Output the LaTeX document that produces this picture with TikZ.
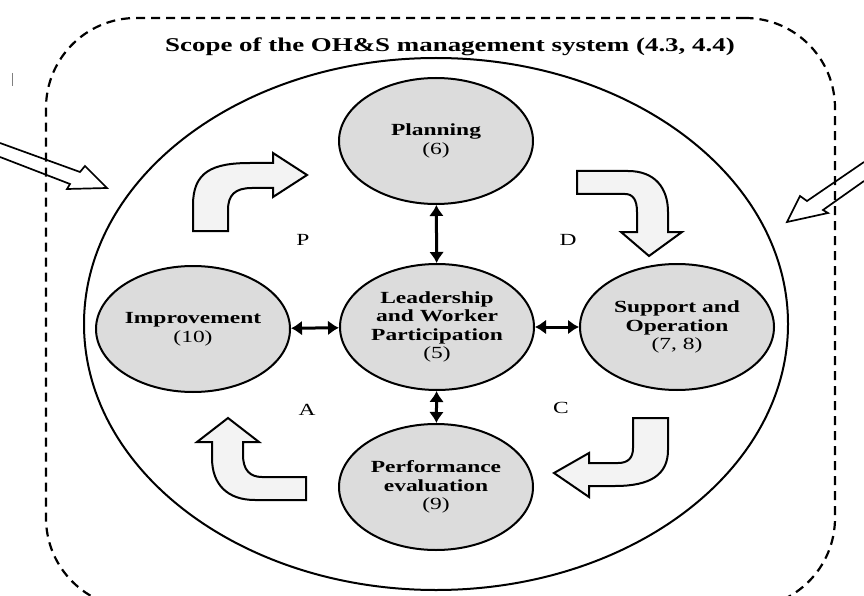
\documentclass[tikz,border=0pt]{standalone}
\usepackage{fontspec}
\setmainfont{Liberation Serif}[FakeStretch=1.38]
\usetikzlibrary{shapes.geometric,arrows.meta}
\definecolor{discfill}{RGB}{220,220,220}
\definecolor{bendfill}{RGB}{243,243,243}
\tikzset{
  phase/.style={draw, ellipse, fill=discfill, line width=2pt, minimum width=194pt, minimum height=126pt, inner sep=0pt, align=center, font=\fontsize{17}{18.5}\selectfont},
  link/.style={line width=3pt, {Latex[length=11pt,width=15pt]}-{Latex[length=11pt,width=15pt]}},
  turnarrow/.style={draw, fill=bendfill, line width=2pt},
  inflow/.style={line width=1.7pt},
  pdca/.style={font=\fontsize{17}{18.5}\selectfont}
}
\begin{document}
\begin{tikzpicture}[x=1pt,y=-1pt]
\useasboundingbox (0,0) rectangle (864,596);
\node[draw, dash pattern=on 9pt off 6pt, line width=2.2pt, rounded corners=90pt, minimum width=789pt, minimum height=590pt] (scope) at (440.5,313) {};
\node[font=\fontsize{19.5}{22}\selectfont\bfseries] (title) at (450,47) {Scope of the OH\&S management system (4.3, 4.4)};
\node[draw, ellipse, line width=2pt, minimum width=704pt, minimum height=532pt] (cycle) at (436,324) {};
\node[phase] (plan) at (436,141) {\textbf{Planning}\\(6)};
\node[phase] (lead) at (437,327) {\textbf{Leadership}\\\textbf{and Worker}\\\textbf{Participation}\\(5)};
\node[phase] (impr) at (193,329) {\textbf{Improvement}\\(10)};
\node[phase] (supp) at (677,327) {\textbf{Support and}\\\textbf{Operation}\\(7, 8)};
\node[phase] (perf) at (436,487) {\textbf{Performance}\\\textbf{evaluation}\\(9)};
\foreach \a/\b in {plan/lead,impr/lead,lead/supp,lead/perf}
\draw[link] (\a) -- (\b);
\node[pdca] (p) at (303,240) {P};
\node[pdca] (d) at (568,240) {D};
\node[pdca] (a) at (307,410) {A};
\node[pdca] (c) at (561,408) {C};
\draw[turnarrow] (193,231) -- (193,205) .. controls (193,172) and (212,163) .. (250,163) -- (273,163) -- (273,153) -- (307,175) -- (273,197) -- (273,188) -- (252,188) .. controls (235,188) and (228,195) .. (228,210) -- (228,231) -- cycle;
\draw[turnarrow] (577,171) -- (628,171) .. controls (655,171) and (668,188) .. (668,212) -- (668,232) -- (682,232) -- (649,256) -- (621,232) -- (637,232) -- (637,212) .. controls (637,200) and (633,194) .. (625,194) -- (577,194) -- cycle;
\draw[turnarrow] (633,418) -- (668,418) -- (668,450) .. controls (668,475) and (650,486) .. (615,486) -- (589,486) -- (589,497) -- (554,473) -- (589,453) -- (589,463) -- (618,463) .. controls (628,463) and (633,458) .. (633,448) -- cycle;
\draw[turnarrow] (306,477) -- (306,500) -- (255,500) .. controls (228,500) and (212,485) .. (212,458) -- (212,442) -- (197,442) -- (228,418) -- (259,442) -- (243,442) -- (243,455) .. controls (243,470) and (250,477) .. (262,477) -- cycle;
\draw[inflow] (0,143) -- (80,172) -- (85,166) -- (107,188) -- (67,189) -- (70,184) -- (0,157);
\draw[inflow] (864,162) -- (807,201) -- (800,196) -- (787,222) -- (828,213) -- (823,210) -- (864,181);
\draw[gray, line width=0.8pt] (12,73) -- (12,86);
\end{tikzpicture}
\end{document}
